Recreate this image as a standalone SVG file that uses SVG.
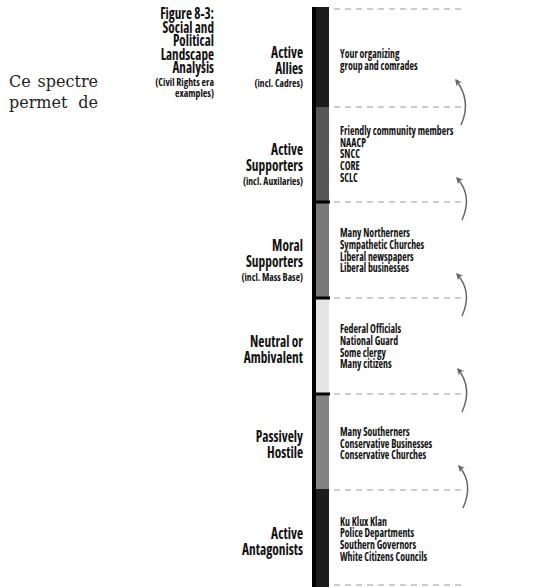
<svg xmlns="http://www.w3.org/2000/svg" width="533" height="587" viewBox="0 0 533 587">
<style>
.c{font-family:"Liberation Sans Narrow","Open Sans","Liberation Sans",sans-serif;font-weight:bold;font-stretch:condensed;fill:#111}
.e{text-anchor:end}
.t{font-size:16px}
.h{font-size:16.5px}
.s{font-size:11px}
.r{font-size:12px}
.dash{stroke:#999;stroke-width:1;stroke-dasharray:6 5;fill:none}
.arr{stroke:#666;stroke-width:1.5;fill:none;marker-end:url(#ah)}
.p{font-family:"DejaVu Serif","Liberation Serif",serif;font-size:16px;fill:#222}
</style>
<defs>
<marker id="ah" viewBox="0 0 10 10" refX="8" refY="5" markerWidth="7" markerHeight="7" orient="auto" markerUnits="userSpaceOnUse">
<path d="M0,0 L10,5 L0,10 L3,5 Z" fill="#666"/>
</marker>
</defs>
<rect width="533" height="587" fill="#fff"/>
<text class="p"><tspan x="9" y="87">Ce</tspan><tspan x="98" y="87" text-anchor="end">spectre</tspan><tspan x="9" y="108">permet</tspan><tspan x="98" y="108" text-anchor="end">de</tspan></text>
<g id="title">
<text class="c t e" transform="matrix(0.82,0,0,1,38.52,0)"><tspan x="214" y="19">Figure 8-3:</tspan><tspan x="214" y="33">Social and</tspan><tspan x="214" y="46.5">Political</tspan><tspan x="214" y="60">Landscape</tspan><tspan x="214" y="73.5">Analysis</tspan></text>
<text class="c s e" transform="matrix(0.89,0,0,1,23.54,0)"><tspan x="214" y="86">(Civil Rights era</tspan><tspan x="214" y="97">examples)</tspan></text>
</g>
<g id="bar">
<rect x="312" y="7" width="17" height="100" fill="#1c1c1c"/>
<rect x="312" y="107" width="17" height="95" fill="#565656"/>
<rect x="312" y="202" width="17" height="96" fill="#787878"/>
<rect x="312" y="298" width="17" height="96" fill="#e4e4e4"/>
<rect x="312" y="394" width="17" height="95" fill="#828282"/>
<rect x="312" y="489" width="17" height="98" fill="#1c1c1c"/>
<rect x="312" y="7" width="4" height="580" fill="#000"/>
<rect x="312" y="200.5" width="18" height="3" fill="#000"/>
<rect x="312" y="296.5" width="18" height="3" fill="#000"/>
<rect x="312" y="392.5" width="18" height="3" fill="#000"/>
</g>
<g id="connectors">
<line class="dash" x1="334" y1="9" x2="463" y2="9"/>
<line class="dash" x1="334" y1="107" x2="463" y2="107"/>
<line class="dash" x1="334" y1="202" x2="463" y2="202"/>
<line class="dash" x1="334" y1="298" x2="463" y2="298"/>
<line class="dash" x1="334" y1="394" x2="463" y2="394"/>
<line class="dash" x1="334" y1="490" x2="463" y2="490"/>
<line class="dash" x1="334" y1="585" x2="463" y2="585"/>
<path class="arr" d="M461,125 Q472,101 456,80"/>
<path class="arr" d="M462,220 Q473,196 457,178"/>
<path class="arr" d="M462,316 Q473,292 457,274"/>
<path class="arr" d="M462,412 Q473,388 458,369"/>
<path class="arr" d="M463,508 Q474,484 459,466"/>
</g>
<g id="allies">
<text class="c h e" transform="matrix(0.81,0,0,1,57.57,0)"><tspan x="303" y="58">Active</tspan><tspan x="303" y="74">Allies</tspan></text>
<text class="c s e" transform="matrix(0.87,0,0,1,39.39,0)"><tspan x="303" y="87">(incl. Cadres)</tspan></text>
<text class="c r" transform="matrix(0.82,0,0,1,61.2,0)"><tspan x="340" y="58">Your organizing</tspan><tspan x="340" y="70">group and comrades</tspan></text>
</g>
<g id="supporters">
<text class="c h e" transform="matrix(0.81,0,0,1,57.57,0)"><tspan x="303" y="155">Active</tspan><tspan x="303" y="171">Supporters</tspan></text>
<text class="c s e" transform="matrix(0.87,0,0,1,39.39,0)"><tspan x="303" y="185">(incl. Auxilaries)</tspan></text>
<text class="c r" transform="matrix(0.82,0,0,1,61.2,0)"><tspan x="340" y="135">Friendly community members</tspan><tspan x="340" y="147">NAACP</tspan><tspan x="340" y="158.5">SNCC</tspan><tspan x="340" y="170">CORE</tspan><tspan x="340" y="182">SCLC</tspan></text>
</g>
<g id="moral">
<text class="c h e" transform="matrix(0.81,0,0,1,57.57,0)"><tspan x="303" y="251">Moral</tspan><tspan x="303" y="267">Supporters</tspan></text>
<text class="c s e" transform="matrix(0.87,0,0,1,39.39,0)"><tspan x="303" y="281">(incl. Mass Base)</tspan></text>
<text class="c r" transform="matrix(0.82,0,0,1,61.2,0)"><tspan x="340" y="237">Many Northerners</tspan><tspan x="340" y="249">Sympathetic Churches</tspan><tspan x="340" y="261">Liberal newspapers</tspan><tspan x="340" y="272.5">Liberal businesses</tspan></text>
</g>
<g id="neutral">
<text class="c h e" transform="matrix(0.81,0,0,1,57.57,0)"><tspan x="303" y="347">Neutral or</tspan><tspan x="303" y="363">Ambivalent</tspan></text>
<text class="c r" transform="matrix(0.82,0,0,1,61.2,0)"><tspan x="340" y="333">Federal Officials</tspan><tspan x="340" y="345">National Guard</tspan><tspan x="340" y="357">Some clergy</tspan><tspan x="340" y="368.5">Many citizens</tspan></text>
</g>
<g id="passive">
<text class="c h e" transform="matrix(0.81,0,0,1,57.57,0)"><tspan x="303" y="442">Passively</tspan><tspan x="303" y="458">Hostile</tspan></text>
<text class="c r" transform="matrix(0.82,0,0,1,61.2,0)"><tspan x="340" y="436">Many Southerners</tspan><tspan x="340" y="448">Conservative Businesses</tspan><tspan x="340" y="459.5">Conservative Churches</tspan></text>
</g>
<g id="antagonists">
<text class="c h e" transform="matrix(0.81,0,0,1,57.57,0)"><tspan x="303" y="539">Active</tspan><tspan x="303" y="555">Antagonists</tspan></text>
<text class="c r" transform="matrix(0.82,0,0,1,61.2,0)"><tspan x="340" y="526">Ku Klux Klan</tspan><tspan x="340" y="537.5">Police Departments</tspan><tspan x="340" y="549">Southern Governors</tspan><tspan x="340" y="561">White Citizens Councils</tspan></text>
</g>
</svg>
